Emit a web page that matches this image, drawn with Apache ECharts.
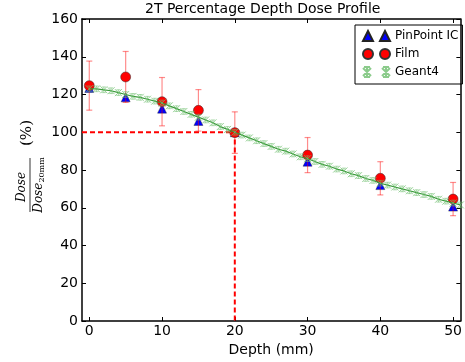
<!DOCTYPE html>
<html>
<head>
<meta charset="utf-8">
<script src="https://cdn.jsdelivr.net/npm/echarts@6/dist/echarts.min.js"></script>
<style>
  html, body { margin: 0; padding: 0; background: #fff; }
  #chart { width: 465px; height: 362px; }
</style>
</head>
<body>
<div id="chart"></div>
<script>
// values
const xTicks = [0, 10, 20, 30, 40, 50]
const yTicks = [0, 20, 40, 60, 80, 100, 120, 140, 160]

const icDepth = [0, 5, 10, 15, 20, 30, 40, 50]
const icDose = [123.5, 118.5, 112.5, 106, 100, 84.4, 72, 60.6]

const filmDepth = [0, 5, 10, 15, 20, 30, 40, 50]
const filmDose = [124.7, 129.3, 116.2, 111.6, 99.8, 87.9, 75.6, 64.6]
const filmErr = [13, 13.5, 12.8, 11, 11, 9.3, 8.8, 8.8]

const g4Depth = [0, 1, 2, 3, 4, 5, 6, 7, 8, 9, 10, 11, 12, 13, 14, 15, 16, 17, 18, 19, 20,
  21, 22, 23, 24, 25, 26, 27, 28, 29, 30, 31, 32, 33, 34, 35, 36, 37, 38, 39, 40,
  41, 42, 43, 44, 45, 46, 47, 48, 49, 50, 51]
const g4Dose = [123, 123, 122.5, 122, 121, 120, 119, 118.5, 117.5, 116.5, 115.5, 114, 112.5, 111, 109.5, 108,
  106.5, 105, 103, 101.5, 100, 98.5, 97, 95.5, 94, 92.5, 91, 90, 88.5, 87, 86,
  84.5, 83, 82, 80.5, 79.5, 78, 77, 75.5, 74.5, 73, 72, 71, 70, 69, 68, 67, 66, 64.5, 63.5, 62.5, 61.5]
const g4Err = 1.5

const refDepth = 20
const refDose = 100
const xMin = -1
const xMax = 51

const chart = echarts.init(document.getElementById('chart'))

const errBar = (color, cap, width) => (params, api) => {
  const x = api.value(0)
  const y = api.value(1)
  const e = api.value(2)
  const top = api.coord([x, y + e])
  const bot = api.coord([x, y - e])
  const st = { stroke: color, lineWidth: width }
  return {
    type: 'group',
    children: [
      { type: 'line', shape: { x1: top[0], y1: top[1], x2: bot[0], y2: bot[1] }, style: st },
      { type: 'line', shape: { x1: top[0] - cap, y1: top[1], x2: top[0] + cap, y2: top[1] }, style: st },
      { type: 'line', shape: { x1: bot[0] - cap, y1: bot[1], x2: bot[0] + cap, y2: bot[1] }, style: st }
    ]
  }
}

const axisFont = { fontFamily: 'DejaVu Sans', fontSize: 14, color: '#000' }
const edge = { onZero: false, lineStyle: { color: '#000', width: 1.5 } }
const tick = { inside: true, length: 4, lineStyle: { color: '#000', width: 1 } }

const option = {
  animation: false,
  title: {
    text: '2T Percentage Depth Dose Profile',
    left: 145,
    top: 2,
    padding: 0,
    textStyle: { fontFamily: 'DejaVu Sans', fontSize: 14, fontWeight: 'normal', color: '#000' }
  },
  legend: {
    orient: 'vertical',
    left: 355,
    top: 25,
    padding: [4, 4, 5, 7],
    itemWidth: 27,
    itemHeight: 10,
    itemGap: 4,
    borderColor: '#000',
    borderWidth: 1,
    borderRadius: 0,
    textStyle: { fontFamily: 'DejaVu Sans', fontSize: 12, lineHeight: 14, color: '#000' },
    data: [
      { name: 'PinPoint IC', icon: 'path://M0,10L5,0L10,10ZM17,10L22,0L27,10Z' },
      { name: 'Film', icon: 'path://M0,5A5,5,0,1,1,10,5A5,5,0,1,1,0,5ZM17,5A5,5,0,1,1,27,5A5,5,0,1,1,17,5Z' },
      { name: 'Geant4', icon: 'path://M0,1L8,9M8,1L0,9M4,0L4,10M1,0L7,0M1,10L7,10M19,1L27,9M27,1L19,9M23,0L23,10M20,0L26,0M20,10L26,10' }
    ]
  },
  grid: { left: 82, top: 19, right: 2, bottom: 41 },
  xAxis: [
    {
      type: 'value', min: xMin, max: xMax, position: 'bottom',
      name: 'Depth (mm)', nameLocation: 'middle', nameGap: 19,
      nameTextStyle: axisFont,
      axisLine: edge,
      axisTick: Object.assign({ customValues: xTicks }, tick),
      axisLabel: Object.assign({ margin: 3, customValues: xTicks }, axisFont),
      splitLine: { show: false }
    },
    {
      type: 'value', min: xMin, max: xMax, position: 'top',
      axisLine: edge,
      axisTick: Object.assign({ customValues: xTicks }, tick),
      axisLabel: { show: false },
      splitLine: { show: false }
    }
  ],
  yAxis: [
    {
      type: 'value', min: yTicks[0], max: yTicks[yTicks.length - 1], interval: 20, position: 'left',
      axisLine: edge,
      axisTick: tick,
      axisLabel: Object.assign({ margin: 4 }, axisFont),
      splitLine: { show: false }
    },
    {
      type: 'value', min: yTicks[0], max: yTicks[yTicks.length - 1], interval: 20, position: 'right',
      axisLine: edge,
      axisTick: tick,
      axisLabel: { show: false },
      splitLine: { show: false }
    }
  ],
  graphic: [
    {
      type: 'group',
      x: 30,
      y: 185,
      rotation: Math.PI / 2,
      children: [
        { type: 'line', shape: { x1: -27, y1: 0, x2: 27, y2: 0 }, style: { stroke: '#000', lineWidth: 0.8 } },
        {
          type: 'text', x: -2, y: -2,
          style: { text: 'Dose', fontFamily: 'DejaVu Serif', fontStyle: 'italic', fontSize: 12, fill: '#000', align: 'center', verticalAlign: 'bottom' }
        },
        {
          type: 'text', x: 0, y: 1,
          style: {
            text: '{a|Dose}{b|20mm}',
            align: 'center', verticalAlign: 'top',
            rich: {
              a: { fontFamily: 'DejaVu Serif', fontStyle: 'italic', fontSize: 12, fill: '#000', lineHeight: 15 },
              b: { fontFamily: 'DejaVu Serif', fontSize: 8, fill: '#000', verticalAlign: 'bottom', lineHeight: 15, padding: [5, 0, 0, 0] }
            }
          }
        },
        {
          type: 'text', x: 52, y: -3,
          style: { text: '(%)', fontFamily: 'DejaVu Serif', fontSize: 15, fill: '#000', align: 'center', verticalAlign: 'middle' }
        }
      ]
    }
  ],
  series: [
    {
      name: 'ref',
      type: 'line',
      data: [[xMin, refDose], [refDepth, refDose], [refDepth, 0]],
      symbol: 'none',
      lineStyle: { color: '#ff0000', width: 2, type: [5, 3] },
      z: 1
    },
    {
      name: 'PinPoint IC',
      type: 'scatter',
      data: icDepth.map((d, i) => [d, icDose[i]]),
      symbol: 'triangle',
      symbolSize: 9,
      itemStyle: { color: '#0000ff', borderColor: '#222', borderWidth: 0.4, opacity: 1 },
      z: 2
    },
    {
      name: 'filmErr',
      type: 'custom',
      data: filmDepth.map((d, i) => [d, filmDose[i], filmErr[i]]),
      renderItem: errBar('rgba(255,0,0,0.45)', 3, 1.2),
      z: 3
    },
    {
      name: 'Film',
      type: 'scatter',
      data: filmDepth.map((d, i) => [d, filmDose[i]]),
      symbol: 'circle',
      symbolSize: 10,
      itemStyle: { color: '#ff0000', borderColor: '#333', borderWidth: 0.5, opacity: 1 },
      z: 4
    },
    {
      name: 'g4Line',
      type: 'line',
      data: g4Depth.map((d, i) => [d, g4Dose[i]]),
      symbol: 'none',
      lineStyle: { color: '#3a9a3a', width: 1.2 },
      z: 5
    },
    {
      name: 'g4Err',
      type: 'custom',
      data: g4Depth.map((d, i) => [d, g4Dose[i], g4Err]),
      renderItem: errBar('rgba(110,190,110,0.7)', 2, 0.8),
      z: 5
    },
    {
      name: 'Geant4',
      type: 'scatter',
      data: g4Depth.map((d, i) => [d, g4Dose[i]]),
      symbol: 'path://M0,0L10,10M10,0L0,10',
      symbolSize: 7,
      itemStyle: { color: 'rgba(110,190,110,0.8)', borderColor: 'rgba(110,190,110,0.8)', borderWidth: 0.9, opacity: 1 },
      z: 5
    }
  ]
}

chart.setOption(option)
</script>
</body>
</html>
